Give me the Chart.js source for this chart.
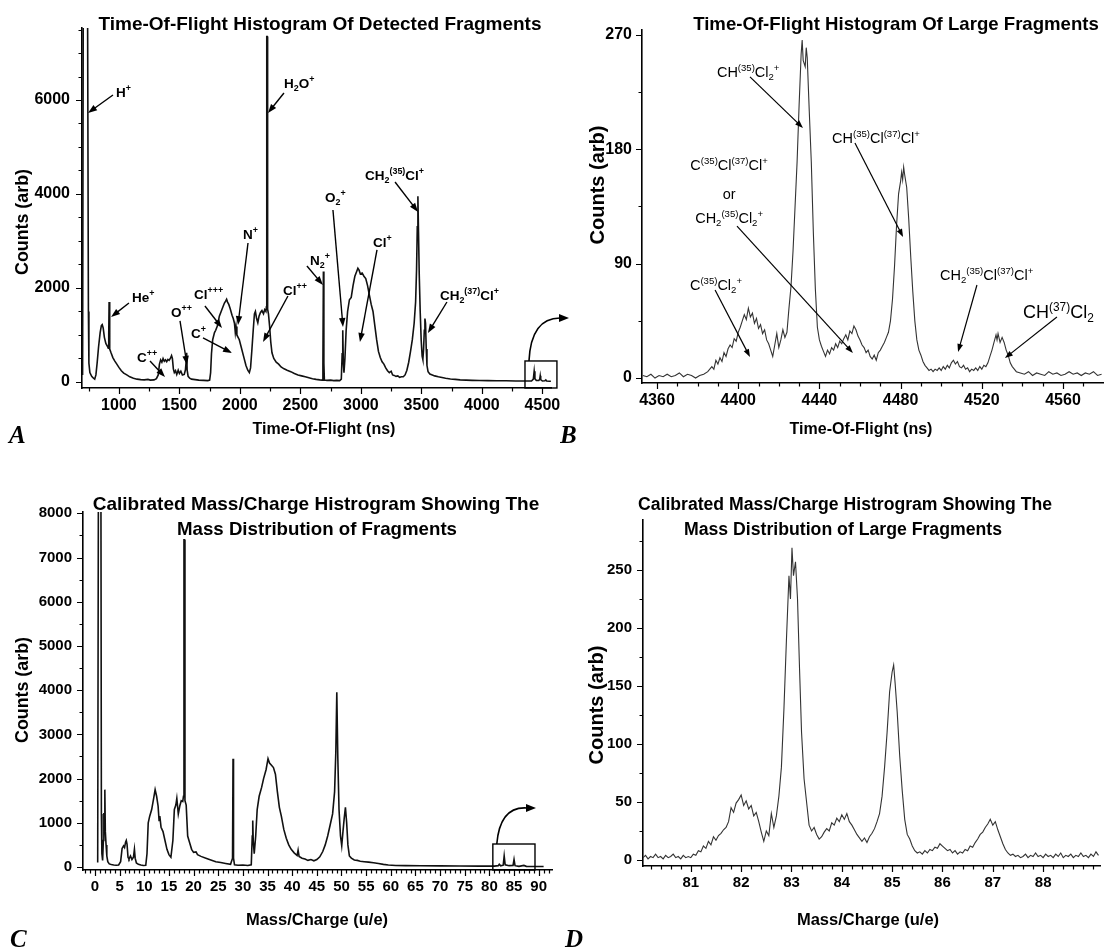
<!DOCTYPE html>
<html><head><meta charset="utf-8">
<script src="https://cdn.jsdelivr.net/npm/chart.js@4.4.0/dist/chart.umd.min.js"></script>
<style>
html,body{margin:0;padding:0;background:#fff;width:1105px;height:952px;overflow:hidden}
canvas{position:absolute}
</style></head><body>
<canvas id="cA" width="590" height="445" style="left:0px;top:0px"></canvas>
<canvas id="cB" width="545" height="445" style="left:560px;top:0px"></canvas>
<canvas id="cC" width="590" height="482" style="left:0px;top:470px"></canvas>
<canvas id="cD" width="545" height="482" style="left:560px;top:470px"></canvas>
<script>
// ---------------- DATA ----------------
// Panel A: time-of-flight (ns) vs counts
const tofA = [700,706,740,748,752,760,775,790,800,810,820,832,845,855,862,870,880,892,905,912,916,919,922,926,935,950,965,980,1000,1020,1040,1065,1090,1120,1150,1180,1210,1240,1260,1290,1310,1325,1335,1345,1355,1365,1375,1385,1395,1405,1415,1425,1435,1442,1450,1458,1468,1478,1490,1500,1512,1525,1540,1550,1556,1560,1564,1572,1585,1600,1630,1660,1700,1735,1750,1758,1765,1775,1790,1800,1815,1830,1845,1860,1872,1882,1890,1898,1908,1920,1935,1945,1955,1962,1968,1975,1985,1995,2010,2030,2050,2065,2078,2088,2098,2110,2120,2128,2138,2148,2158,2170,2182,2195,2205,2215,2219,2222,2226,2229,2236,2245,2255,2265,2280,2300,2320,2340,2365,2390,2420,2450,2480,2510,2540,2570,2600,2630,2660,2680,2686,2690,2694,2698,2720,2750,2775,2800,2825,2838,2845,2850,2855,2860,2868,2878,2890,2905,2920,2935,2950,2965,2975,2985,2995,3010,3025,3040,3055,3070,3085,3100,3115,3130,3145,3160,3175,3190,3205,3220,3235,3250,3262,3275,3290,3305,3320,3335,3350,3365,3380,3395,3410,3425,3440,3452,3460,3466,3471,3476,3482,3490,3498,3506,3512,3518,3524,3529,3534,3540,3546,3555,3570,3590,3610,3640,3670,3700,3740,3780,3820,3870,3920,3980,4050,4120,4200,4280,4360,4410,4425,4432,4438,4450,4470,4478,4482,4486,4500,4520,4528,4535,4560,4570];
const cntA = [150,9000,9000,1500,400,200,120,80,60,150,400,750,1050,1200,1220,1150,950,820,760,720,1000,1700,1100,700,620,520,450,390,310,240,190,150,110,80,60,50,45,55,40,45,70,150,380,470,420,500,440,470,430,480,460,500,560,500,280,200,240,160,250,180,230,150,160,260,450,620,250,120,80,60,50,40,35,30,40,200,600,900,1050,1100,1200,1400,1500,1600,1680,1720,1760,1700,1650,1560,1420,1350,1250,1050,1180,1000,950,900,750,550,350,250,200,300,650,1100,1450,1500,1350,1260,1400,1480,1520,1450,1540,1500,1600,7350,7350,1550,1450,1200,850,620,500,420,380,320,280,250,220,180,150,130,110,90,70,55,45,40,400,2350,400,40,35,40,30,35,30,60,600,1100,400,200,500,1100,1500,1750,1800,2050,2250,2350,2420,2380,2300,2320,2250,2200,2050,1850,1650,1500,1200,900,650,520,430,380,300,240,200,230,150,140,120,130,100,110,110,150,250,420,650,900,1250,1700,2400,3300,3950,3200,2300,1500,900,550,480,700,1100,1350,1250,700,350,220,170,150,130,110,95,80,65,55,45,40,35,30,28,25,25,22,20,20,60,230,70,30,30,60,130,50,20,25,45,20,15,15];
const xTicksA = [1000,1500,2000,2500,3000,3500,4000,4500];
const yTicksA = [0,2000,4000,6000];

// Panel B: time-of-flight (ns) vs counts, large fragments
const tofB = [4353,4355,4357,4359,4361,4363,4365,4367,4369,4371,4373,4375,4377,4379,4381,4383,4385,4387,4388,4389,4390,4391,4392,4393,4394,4395,4396,4397,4398,4399,4400,4401,4402,4403,4404,4405,4406,4407,4408,4409,4410,4411,4412,4413,4414,4415,4416,4417,4418,4419,4420,4421,4422,4423,4424,4425,4426,4427,4428,4429,4430,4431,4431.5,4432,4433,4433.5,4434,4435,4436,4437,4438,4439,4440,4441,4442,4443,4444,4445,4446,4447,4448,4449,4450,4451,4452,4453,4454,4455,4456,4457,4458,4459,4460,4461,4462,4463,4464,4465,4466,4467,4468,4469,4470,4471,4472,4473,4474,4475,4476,4477,4478,4479,4480,4480.5,4481,4481.5,4482,4483,4484,4485,4486,4487,4488,4489,4490,4491,4492,4493,4494,4495,4496,4497,4498,4499,4500,4501,4502,4503,4504,4505,4506,4507,4508,4509,4510,4511,4512,4513,4514,4515,4516,4517,4518,4519,4520,4521,4522,4523,4524,4525,4526,4527,4527.5,4528,4529,4530,4531,4532,4533,4534,4535,4536,4537,4539,4541,4543,4545,4547,4549,4551,4553,4555,4557,4559,4561,4563,4565,4567,4569,4571,4573,4575,4577,4579];
const cntB = [2,1,3,0,2,1,3,1,2,4,1,3,2,0,2,3,5,9,7,14,11,16,13,20,17,23,26,24,31,29,36,40,45,50,46,55,48,51,43,47,39,42,35,38,30,27,22,17,26,35,24,30,38,32,36,55,72,100,135,170,215,255,266,250,245,260,252,210,170,115,70,40,30,25,21,17,22,19,24,22,27,24,29,27,31,34,30,37,35,41,38,33,30,26,24,20,22,17,15,18,14,20,22,25,28,32,36,45,62,88,120,145,155,162,156,166,160,150,125,95,68,45,30,22,18,13,10,8,6,7,5,7,6,8,6,9,7,10,8,12,14,11,13,9,8,10,7,8,5,7,6,8,6,9,7,10,9,12,17,22,28,34,30,35,28,32,28,22,18,12,9,7,5,4,3,5,2,4,3,2,5,3,4,2,3,5,3,4,2,4,3,5,2,3];
const xTicksB = [4360,4400,4440,4480,4520,4560];
const yTicksB = [0,90,180,270];

// Panel C: mass/charge (u/e) vs counts
const mzC = [0.55,0.7,1.2,1.3,1.4,1.55,1.7,1.8,1.9,2.0,2.1,2.25,2.4,2.6,2.9,3.3,3.8,4.3,4.8,5.2,5.5,5.8,6.0,6.2,6.35,6.5,6.7,6.9,7.2,7.5,7.8,8.0,8.15,8.4,8.8,9.3,9.8,10.3,10.55,10.8,11.1,11.5,11.9,12.2,12.5,12.8,13.0,13.15,13.4,13.8,14.2,14.6,15.0,15.4,15.8,16.1,16.4,16.6,16.9,17.2,17.5,17.8,17.95,18.05,18.15,18.25,18.5,18.8,19.2,19.6,20.0,20.5,20.8,21.5,22.5,23.5,24.5,25.5,26.5,27.5,27.9,28.0,28.1,28.3,29,30,31,31.7,31.9,32.0,32.1,32.3,32.6,32.9,33.3,33.8,34.2,34.7,35.1,35.4,35.8,36.2,36.6,37.0,37.4,37.8,38.3,38.8,39.3,39.8,40.4,41.0,41.2,41.4,42.0,42.6,43.2,43.8,44.4,45.0,45.6,46.2,46.7,47.2,47.7,48.2,48.6,48.85,49.05,49.25,49.5,49.8,50.05,50.3,50.55,50.8,51.05,51.3,51.6,52.0,52.6,53.2,53.8,54.6,55.5,56.5,57.5,58.5,59.5,61,63,66,70,74,78,81,81.8,82.0,82.3,82.8,83.0,83.2,84,84.8,85.0,85.2,86,87,87.5,89,91];
const cntC = [100,9000,9000,1200,300,150,600,1220,900,1750,800,500,250,120,70,55,45,40,45,120,420,480,440,560,600,520,220,180,250,170,220,400,200,90,60,45,35,40,300,1000,1150,1300,1550,1750,1600,1380,1050,1150,900,800,600,400,280,220,600,1300,1400,1550,1200,1380,1500,1480,1600,7400,7400,1500,1400,700,550,400,330,340,280,240,200,160,120,100,80,60,200,2450,200,50,40,45,35,50,700,1050,600,300,700,1300,1600,1800,2000,2200,2450,2350,2300,2250,2100,1700,1350,1150,850,650,500,400,320,260,380,240,200,180,150,170,140,170,230,350,500,700,950,1200,1700,2600,3950,2500,1300,700,480,800,1100,1350,1000,500,250,200,160,150,130,120,110,95,80,60,45,35,30,28,25,22,20,20,30,60,25,40,250,50,30,35,170,30,15,35,15,12,10];
const xTicksC = [0,5,10,15,20,25,30,35,40,45,50,55,60,65,70,75,80,85,90];
const yTicksC = [0,1000,2000,3000,4000,5000,6000,7000,8000];

// Panel D: mass/charge (u/e) vs counts, large fragments
const mzD = [80.05,80.1,80.15,80.2,80.25,80.3,80.35,80.4,80.45,80.5,80.55,80.6,80.65,80.7,80.75,80.8,80.85,80.9,80.95,81.0,81.05,81.1,81.15,81.2,81.25,81.3,81.35,81.4,81.45,81.5,81.55,81.6,81.65,81.7,81.75,81.8,81.85,81.9,81.95,82.0,82.05,82.1,82.15,82.2,82.25,82.3,82.35,82.4,82.45,82.5,82.55,82.6,82.65,82.7,82.75,82.8,82.85,82.9,82.95,82.98,83.01,83.04,83.08,83.12,83.16,83.2,83.25,83.3,83.35,83.4,83.45,83.5,83.55,83.6,83.65,83.7,83.75,83.8,83.85,83.9,83.95,84.0,84.05,84.1,84.15,84.2,84.25,84.3,84.35,84.4,84.45,84.5,84.55,84.6,84.65,84.7,84.75,84.8,84.85,84.9,84.95,85.0,85.03,85.06,85.1,85.15,85.2,85.25,85.3,85.35,85.4,85.45,85.5,85.55,85.6,85.65,85.7,85.75,85.8,85.85,85.9,85.95,86.0,86.05,86.1,86.15,86.2,86.25,86.3,86.35,86.4,86.45,86.5,86.55,86.6,86.65,86.7,86.75,86.8,86.85,86.9,86.95,87.0,87.05,87.1,87.15,87.2,87.25,87.3,87.35,87.4,87.45,87.5,87.55,87.6,87.65,87.7,87.75,87.8,87.85,87.9,87.95,88.0,88.05,88.1,88.15,88.2,88.25,88.3,88.35,88.4,88.45,88.5,88.55,88.6,88.65,88.7,88.75,88.8,88.85,88.9,88.95,89.0,89.05,89.1];
const cntD = [2,4,1,3,2,5,2,3,1,4,2,3,5,2,3,1,4,2,3,2,5,4,8,7,12,10,16,13,20,17,21,23,26,28,33,45,41,49,52,56,47,51,44,47,38,41,33,24,16,25,21,40,28,38,55,80,130,190,245,225,269,245,257,225,165,110,70,50,30,25,28,22,18,20,24,27,25,32,30,36,33,39,35,40,33,30,26,22,19,16,19,15,20,23,27,33,40,55,80,110,145,162,168,152,128,90,60,35,22,18,12,8,6,7,5,8,6,9,8,11,10,14,12,10,8,9,6,8,5,7,6,9,8,12,11,15,18,22,24,28,31,35,30,33,26,20,14,9,6,4,5,3,4,2,3,5,2,4,3,6,3,4,2,5,3,4,2,5,3,6,2,4,3,5,2,4,3,6,3,4,2,5,3,7,4];
const xTicksD = [81,82,83,84,85,86,87,88];
const yTicksD = [0,50,100,150,200,250];

// minor tick helper (axis decoration only)
function minorTicks(a, b, step, majors){
  const out=[]; const n=Math.round((b-a)/step);
  for(let i=0;i<=n;i++){const v=+(a+i*step).toFixed(4); if(!majors.some(m=>Math.abs(m-v)<1e-6)) out.push(v);}
  return out;
}

// ---------------- DRAWING HELPERS ----------------
const FAM = '"Liberation Sans", Arial, Helvetica, sans-serif';
function parseRich(s){
  const segs=[]; let i=0, buf='';
  while(i<s.length){
    const ch=s[i];
    if(ch==='^'||ch==='_'){
      if(buf){segs.push({t:buf,m:0});buf='';}
      let txt;
      if(s[i+1]==='{'){const j=s.indexOf('}',i+2); txt=s.slice(i+2,j); i=j+1;}
      else {txt=s[i+1]; i+=2;}
      segs.push({t:txt,m:ch==='^'?1:-1});
    } else {buf+=ch;i++;}
  }
  if(buf)segs.push({t:buf,m:0});
  return segs;
}
function drawRich(ctx,s,x,y,size,weight,align){
  const segs=parseRich(s); const ss=size*0.66;
  const fnt=(sz)=>`${weight} ${sz}px ${FAM}`;
  let w=0; for(const g of segs){ctx.font=fnt(g.m?ss:size); g.w=ctx.measureText(g.t).width; w+=g.w;}
  let cx = align==='center'? x-w/2 : x;
  ctx.textBaseline='alphabetic'; ctx.textAlign='left';
  for(const g of segs){ctx.font=fnt(g.m?ss:size); const dy = g.m===1? -size*0.42 : g.m===-1? size*0.22 : 0; ctx.fillText(g.t,cx,y+dy); cx+=g.w;}
}
function arrow(ctx,x1,y1,x2,y2,head,lw){
  const ang=Math.atan2(y2-y1,x2-x1), c=Math.cos(ang), s=Math.sin(ang);
  ctx.lineWidth=lw; ctx.beginPath(); ctx.moveTo(x1,y1); ctx.lineTo(x2-head*0.7*c,y2-head*0.7*s); ctx.stroke();
  ctx.beginPath(); ctx.moveTo(x2,y2);
  ctx.lineTo(x2-head*c+head*0.36*s, y2-head*s-head*0.36*c);
  ctx.lineTo(x2-head*c-head*0.36*s, y2-head*s+head*0.36*c);
  ctx.closePath(); ctx.fill();
}

function decorate(chart, L){
  const ctx=chart.ctx, X=chart.scales.x, Y=chart.scales.y, ca=chart.chartArea;
  const px=v=>X.getPixelForValue(v), py=v=>Y.getPixelForValue(v);
  ctx.save();
  ctx.strokeStyle='#000'; ctx.fillStyle='#000'; ctx.lineWidth=1.2;
  ctx.beginPath();
  const tx=(arr,len)=>{for(const v of arr){const p=Math.round(px(v))+0.5; ctx.moveTo(p,ca.bottom); ctx.lineTo(p,ca.bottom+len);}};
  const ty=(arr,len)=>{for(const v of arr){const p=Math.round(py(v))+0.5; ctx.moveTo(ca.left,p); ctx.lineTo(ca.left-len,p);}};
  tx(L.xMajor,6); tx(L.xMinor,3.5); ty(L.yMajor,6); ty(L.yMinor,3.5);
  ctx.stroke();
  // zoom box + curved arrow
  if(L.box){
    const b=L.box;
    ctx.lineWidth=1.4;
    ctx.strokeRect(px(b.x0), py(b.y1), px(b.x1)-px(b.x0), ca.bottom-py(b.y1));
    const sx=px(b.c[0]), sy=py(b.c[1]), cx=px(b.c[2]), cy=py(b.c[3]), ex=px(b.c[4]), ey=py(b.c[5]);
    ctx.lineWidth=1.6;
    ctx.beginPath(); ctx.moveTo(sx,sy); ctx.quadraticCurveTo(cx,cy,ex-6,ey); ctx.stroke();
    ctx.beginPath(); ctx.moveTo(ex+3,ey); ctx.lineTo(ex-7,ey-4); ctx.lineTo(ex-7,ey+4); ctx.closePath(); ctx.fill();
  }
  // annotations
  for(const a of (L.ann||[])){
    if(a.t) drawRich(ctx,a.t,px(a.x),py(a.y),a.size||L.annSize,a.w||L.annWeight,a.align||'left');
    if(a.a) { ctx.strokeStyle='#000'; arrow(ctx,px(a.a[0]),py(a.a[1]),px(a.a[2]),py(a.a[3]),L.head,L.alw); }
  }
  // chart title lines
  ctx.textAlign='center'; ctx.textBaseline='alphabetic';
  for(const t of L.title){ ctx.font=`bold ${t.size}px ${FAM}`; ctx.fillText(t.text,t.cx,t.by,t.maxW); }
  // x-axis title
  ctx.font=`bold ${L.xt.size}px ${FAM}`; ctx.fillText(L.xt.text,L.xt.cx,L.xt.by,L.xt.maxW);
  // y-axis title
  ctx.save(); ctx.translate(L.yt.bx,L.yt.cy); ctx.rotate(-Math.PI/2);
  ctx.font=`bold ${L.yt.size}px ${FAM}`; ctx.fillText(L.yt.text,0,0,L.yt.maxW); ctx.restore();
  // panel letter
  ctx.textAlign='left'; ctx.font=`italic bold 25px "Liberation Serif", "Times New Roman", serif`;
  ctx.fillText(L.letter.text,L.letter.x,L.letter.by);
  ctx.restore();
}

function makeChart(id, xs, ys, L){
  const pts = xs.map((x,i)=>({x:x, y:ys[i]}));
  const tickFont = {family:FAM, size:L.tickSize, weight:'bold'};
  return new Chart(document.getElementById(id), {
    type:'line',
    data:{datasets:[{data:pts, borderColor:L.color, borderWidth:L.lw, pointRadius:0, tension:0, fill:false}]},
    options:{
      responsive:false, animation:false, devicePixelRatio:1, parsing:true,
      layout:{padding:L.pad},
      plugins:{legend:{display:false}, tooltip:{enabled:false}, title:{display:false}},
      scales:{
        x:{type:'linear', min:L.xr[0], max:L.xr[1], offset:false,
           afterBuildTicks:s=>{s.ticks=L.xMajor.map(v=>({value:v}));},
           afterFit:s=>{s.height=L.xh;},
           grid:{display:false, drawTicks:false},
           border:{display:true, color:'#000', width:1.6},
           ticks:{autoSkip:false, maxRotation:0, minRotation:0, padding:L.xpad, font:tickFont, color:'#000', callback:v=>String(v)}},
        y:{type:'linear', min:L.yr[0], max:L.yr[1], offset:false,
           afterBuildTicks:s=>{s.ticks=L.yMajor.map(v=>({value:v}));},
           afterFit:s=>{s.width=L.yw;},
           grid:{display:false, drawTicks:false},
           border:{display:true, color:'#000', width:1.6},
           ticks:{autoSkip:false, padding:L.ypad, font:tickFont, color:'#000', callback:v=>String(v)}}
      }
    },
    plugins:[{id:'deco_'+id, afterDraw:(c)=>decorate(c,L)}]
  });
}

// ---------------- PANELS ----------------
makeChart('cA', tofA, cntA, {
  color:'#111', lw:1.6, tickSize:16, xpad:8, ypad:12,
  pad:{left:0,top:28,right:39,bottom:0}, yw:82, xh:57,
  xr:[695,4571], yr:[-128,7532],
  xMajor:xTicksA, xMinor:minorTicks(750,4500,250,xTicksA),
  yMajor:yTicksA, yMinor:minorTicks(500,7500,500,yTicksA),
  annSize:13.5, annWeight:'bold', head:9, alw:1.4,
  ann:[
    {t:'H^+', x:976, y:6065, a:[951,6107,745,5724]},
    {t:'H_2O^+', x:2364, y:6256, a:[2364,6150,2232,5724]},
    {t:'He^+', x:1108, y:1702, a:[1083,1681,935,1383]},
    {t:'C^{++}', x:1150, y:426, a:[1257,447,1381,106]},
    {t:'O^{++}', x:1430, y:1383, a:[1505,1298,1563,362]},
    {t:'Cl^{+++}', x:1621, y:1766, a:[1711,1617,1852,1149]},
    {t:'C^+', x:1596, y:936, a:[1695,936,1935,617]},
    {t:'N^+', x:2025, y:3043, a:[2067,2958,1984,1213]},
    {t:'Cl^{++}', x:2356, y:1851, a:[2397,1830,2191,851]},
    {t:'N_2^+', x:2579, y:2490, a:[2554,2468,2686,2064]},
    {t:'O_2^+', x:2703, y:3830, a:[2769,3660,2852,1170]},
    {t:'Cl^+', x:3100, y:2873, a:[3133,2809,2992,851]},
    {t:'CH_2^{(35)}Cl^+', x:3034, y:4298, a:[3282,4256,3472,3618]},
    {t:'CH_2^{(37)}Cl^+', x:3653, y:1745, a:[3711,1702,3554,1043]}
  ],
  box:{x0:4356, x1:4620, y1:447, c:[4389,447,4406,1362,4695,1362]},
  title:[{text:'Time-Of-Flight Histogram Of Detected Fragments', cx:320, by:30, size:19, maxW:445}],
  xt:{text:'Time-Of-Flight (ns)', cx:324, by:434, size:16, maxW:160},
  yt:{text:'Counts (arb)', bx:28, cy:222, size:18, maxW:106},
  letter:{text:'A', x:9, by:443}
});

makeChart('cB', tofB, cntB, {
  color:'#333', lw:1.1, tickSize:16, xpad:8, ypad:10,
  pad:{left:0,top:30,right:2,bottom:0}, yw:82, xh:62,
  xr:[4352.6,4579.7], yr:[-3.9,273.9],
  xMajor:xTicksB, xMinor:minorTicks(4360,4570,10,xTicksB),
  yMajor:yTicksB, yMinor:minorTicks(45,270,45,yTicksB),
  annSize:14.5, annWeight:'normal', head:8, alw:1.2,
  ann:[
    {t:'CH^{(35)}Cl_2^+', x:4389.5, y:236.9, a:[4405.8,237,4431.9,196.8]},
    {t:'CH^{(35)}Cl^{(37)}Cl^+', x:4446.2, y:185, a:[4457.5,185,4481.2,111]},
    {t:'C^{(35)}Cl^{(37)}Cl^+', x:4395.5, y:163.7, align:'center'},
    {t:'or', x:4395.5, y:140.9, align:'center'},
    {t:'CH_2^{(35)}Cl_2^+', x:4395.5, y:122, align:'center', a:[4399.4,119.6,4456.5,19.7]},
    {t:'C^{(35)}Cl_2^+', x:4376.2, y:69.3, a:[4388.6,69.3,4405.8,16.5]},
    {t:'CH_2^{(35)}Cl^{(37)}Cl^+', x:4499.4, y:77.1, a:[4517.6,73.2,4508.3,20.5]},
    {t:'CH^{(37)}Cl_2', x:4540.3, y:47.2, size:18, a:[4557,48,4531.4,15.7]}
  ],
  title:[{text:'Time-Of-Flight Histogram Of Large Fragments', cx:336, by:30, size:18.6, maxW:407}],
  xt:{text:'Time-Of-Flight (ns)', cx:301, by:434, size:16, maxW:160},
  yt:{text:'Counts (arb)', bx:44, cy:185, size:20, maxW:124},
  letter:{text:'B', x:0, by:443}
});

makeChart('cC', mzC, cntC, {
  color:'#111', lw:1.6, tickSize:15, xpad:8, ypad:11,
  pad:{left:0,top:42,right:38,bottom:0}, yw:83, xh:82,
  xr:[-2.43,92.7], yr:[-68,8030],
  xMajor:xTicksC, xMinor:minorTicks(-2,92,1,xTicksC),
  yMajor:yTicksC, yMinor:minorTicks(500,7500,500,yTicksC),
  annSize:13.5, annWeight:'bold', head:8, alw:1.3,
  ann:[],
  box:{x0:80.7, x1:89.25, y1:520, c:[81.5,520,82.15,1380,88.85,1335]},
  title:[
    {text:'Calibrated Mass/Charge Histrogram Showing The', cx:316, by:40, size:19, maxW:448},
    {text:'Mass Distribution of Fragments', cx:317, by:65, size:19, maxW:280}
  ],
  xt:{text:'Mass/Charge (u/e)', cx:317, by:455, size:16.5, maxW:170},
  yt:{text:'Counts (arb)', bx:28, cy:220, size:18, maxW:106},
  letter:{text:'C', x:10, by:477}
});

makeChart('cD', mzD, cntD, {
  color:'#333', lw:1.1, tickSize:15, xpad:8, ypad:11,
  pad:{left:0,top:50,right:5,bottom:0}, yw:83, xh:86,
  xr:[80.05,89.13], yr:[-5.2,293],
  xMajor:xTicksD, xMinor:minorTicks(80.2,89.0,0.2,xTicksD),
  yMajor:yTicksD, yMinor:minorTicks(25,275,25,yTicksD),
  annSize:14, annWeight:'normal', head:8, alw:1.2,
  ann:[],
  title:[
    {text:'Calibrated Mass/Charge Histrogram Showing The', cx:285, by:40, size:18, maxW:414},
    {text:'Mass Distribution of Large Fragments', cx:283, by:65, size:18, maxW:318}
  ],
  xt:{text:'Mass/Charge (u/e)', cx:308, by:455, size:16.5, maxW:170},
  yt:{text:'Counts (arb)', bx:43, cy:235, size:20, maxW:130},
  letter:{text:'D', x:5, by:477}
});
</script>
</body></html>
